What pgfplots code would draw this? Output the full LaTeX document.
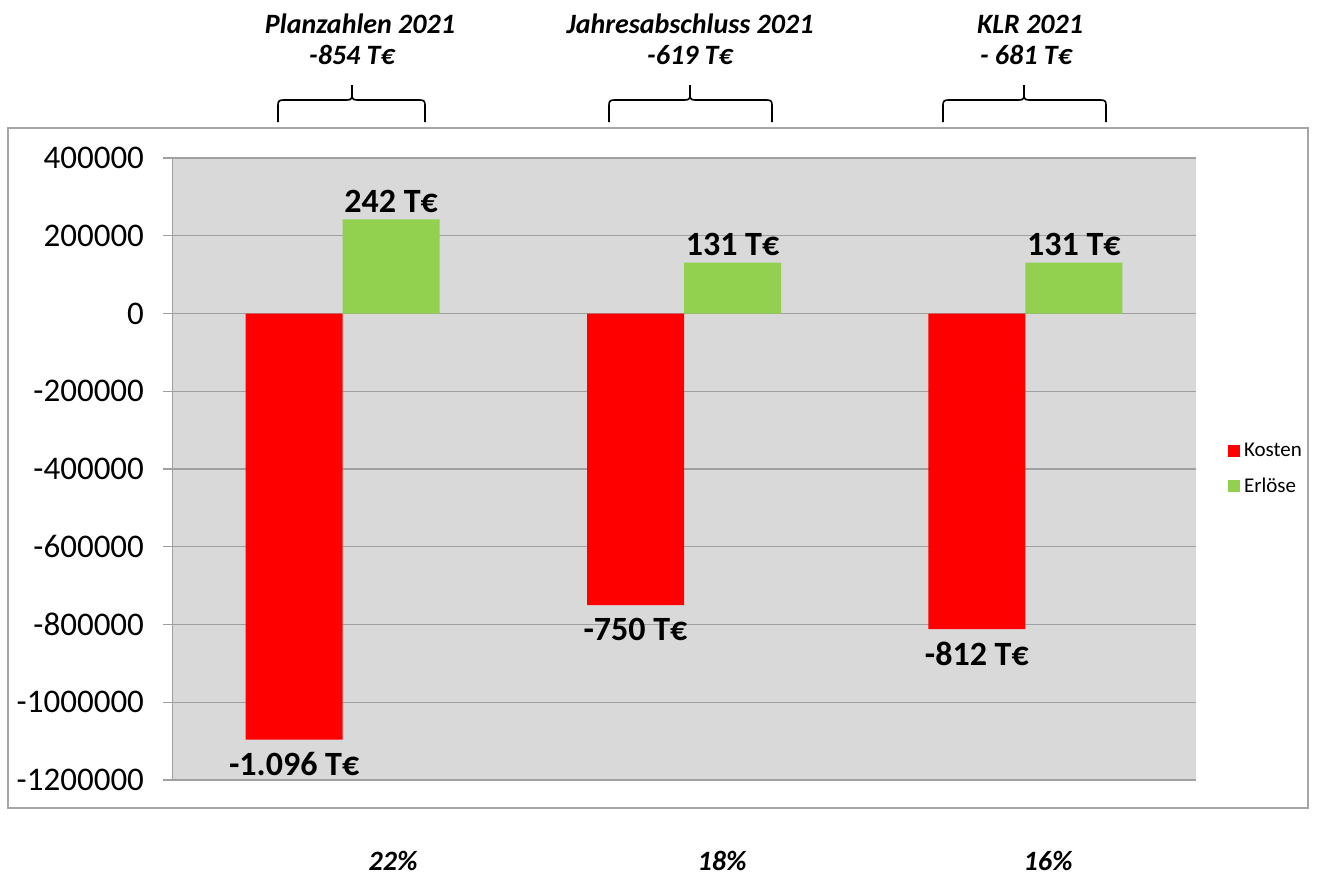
\documentclass[border=0pt]{standalone}
\usepackage{pgfplots}
\pgfplotsset{compat=1.18}
\usepackage{pgfplotstable}
\usepackage{fontspec}
\setmainfont{Carlito}
\definecolor{kred}{HTML}{FF0000}
\definecolor{egreen}{HTML}{92D050}
\definecolor{bggray}{HTML}{D9D9D9}
\definecolor{gridgray}{HTML}{A0A0A0}
\definecolor{framegray}{HTML}{A6A6A6}

\pgfplotstableread{
x y label
0 -1096000 {-1.096 T€}
1 -750000 {-750 T€}
2 -812000 {-812 T€}
}\kosten
\pgfplotstableread{
x y label
0 242000 {242 T€}
1 131000 {131 T€}
2 131000 {131 T€}
}\erloese

\newcommand{\mybrace}[3]{% x1, center, x2 (pt numbers)
  \draw[line width=0.8pt] (#1pt,-61pt) -- (#1pt,-52.5pt)
    .. controls (#1pt,-50.8pt) and (#1pt+0.5pt,-50pt) .. (#1pt+2.5pt,-50pt)
    -- (#2pt-2.5pt,-50pt)
    .. controls (#2pt-0.5pt,-50pt) and (#2pt,-49.2pt) .. (#2pt,-47.5pt)
    -- (#2pt,-42.5pt);
  \draw[line width=0.8pt] (#3pt,-61pt) -- (#3pt,-52.5pt)
    .. controls (#3pt,-50.8pt) and (#3pt-0.5pt,-50pt) .. (#3pt-2.5pt,-50pt)
    -- (#2pt+2.5pt,-50pt)
    .. controls (#2pt+0.5pt,-50pt) and (#2pt,-49.2pt) .. (#2pt,-47.5pt);
}

\begin{document}
\begin{tikzpicture}
\path[use as bounding box] (0pt,0pt) rectangle (660.5pt,-439pt);
\draw[framegray, line width=0.7pt] (4pt,-64pt) rectangle (654pt,-404pt);
\begin{axis}[
  at={(86pt,-390pt)}, anchor=south west,
  scale only axis, width=512pt, height=311pt,
  xmin=-0.5, xmax=2.5,
  ymin=-1200000, ymax=400000,
  ytick={-1200000,-1000000,...,400000},
  xtick=\empty,
  scaled y ticks=false,
  yticklabel style={/pgf/number format/fixed, /pgf/number format/1000 sep={}, /pgf/number format/assume math mode=true, font=\fontsize{16.5}{18}\selectfont, xshift=-6pt},
  axis y line*=left, axis x line=none,
  axis line style={gridgray, -},
  tick style={gridgray, line width=0.6pt},
  tick align=outside, major tick length=4.5pt,
  ymajorgrids, grid style={gridgray, line width=0.6pt},
  axis background/.style={fill=bggray},
  ybar=0pt, bar width=48.5pt,
  point meta=explicit symbolic,
  nodes near coords,
  nodes near coords style={font=\fontsize{17}{19}\bfseries\selectfont, text=black},
  legend style={at={(1.025,0.5)}, anchor=west, draw=none, fill=none, font=\fontsize{10.5}{12}\selectfont, row sep=5pt},
  legend cell align=left,
  legend image code/.code={\fill[#1] (0pt,-3pt) rectangle (6pt,3pt);},
]
\addplot[fill=kred, draw=none, nodes near coords style={anchor=north, yshift=-3pt}] table[x=x,y=y,meta=label] {\kosten};
\addlegendentry{Kosten}
\addplot[fill=egreen, draw=none, nodes near coords style={anchor=south}] table[x=x,y=y,meta=label] {\erloese};
\addlegendentry{Erlöse}
\end{axis}
% top annotations
\begin{scope}[font=\fontsize{14}{16}\bfseries\itshape\selectfont]
\node[anchor=base] at (180pt,-16.5pt) {Planzahlen 2021};
\node[anchor=base] at (176pt,-32pt) {-854 T€};
\node[anchor=base] at (345pt,-16.5pt) {Jahresabschluss 2021};
\node[anchor=base] at (345pt,-32pt) {-619 T€};
\node[anchor=base] at (515pt,-16.5pt) {KLR 2021};
\node[anchor=base] at (513pt,-32pt) {- 681 T€};
\node[anchor=base] at (196.5pt,-435pt) {22\%};
\node[anchor=base] at (361pt,-435pt) {18\%};
\node[anchor=base] at (524pt,-435pt) {16\%};
\end{scope}
\mybrace{139}{176}{212.5}
\mybrace{304.5}{345}{386}
\mybrace{471.5}{512}{553}
\end{tikzpicture}
\end{document}
